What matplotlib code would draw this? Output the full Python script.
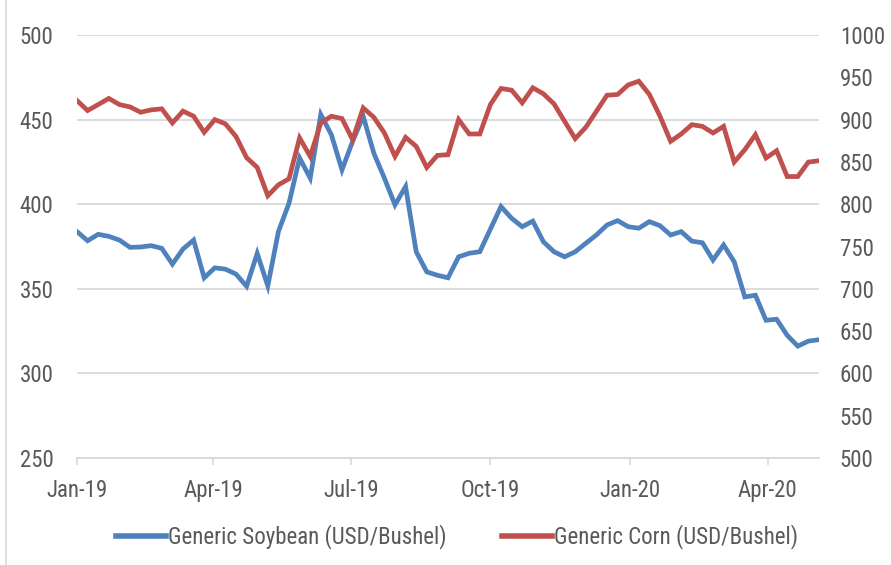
import numpy as np
import pandas as pd
import matplotlib

matplotlib.use('Agg')
import matplotlib.pyplot as plt
import matplotlib.dates as mdates
from matplotlib.lines import Line2D
from matplotlib import font_manager

# 找一个窄体字体 (Excel 风格), 没有就退回 Liberation Sans
installed = {f.name for f in font_manager.fontManager.ttflist}
narrow = [n for n in ['Liberation Sans Narrow', 'Arial Narrow', 'Roboto Condensed',
                      'Noto Sans Condensed', 'Open Sans Condensed', 'DejaVu Sans Condensed']
          if n in installed]
condensed_dejavu = any(f.name == 'DejaVu Sans' and str(f.stretch) in ('condensed', '300')
                       for f in font_manager.fontManager.ttflist)
if narrow:
    plt.rcParams['font.family'] = [narrow[0], 'DejaVu Sans']
    fs = 16.5
elif condensed_dejavu:
    plt.rcParams['font.family'] = ['DejaVu Sans']
    plt.rcParams['font.stretch'] = 'condensed'
    fs = 15
else:
    plt.rcParams['font.family'] = ['Liberation Sans', 'DejaVu Sans']
    fs = 15

# ===================== data (weekly) =====================
dates = pd.date_range('2019-01-01', periods=71, freq='7D')

soybean = [383.8, 378.4, 382.2, 381.0, 378.8, 374.5, 374.7, 375.5, 373.9, 364.6,
           373.5, 378.8, 356.5, 362.4, 361.6, 358.7, 351.5, 370.9, 351.7, 383.8,
           400.6, 427.3, 415.4, 453.0, 441.0, 420.3, 437.1, 452.0, 430.2, 415.4,
           399.6, 410.4, 371.9, 360.0, 358.0, 356.5, 368.9, 371.0, 371.9, 385.3,
           398.6, 391.7, 386.7, 390.0, 377.8, 371.9, 368.9, 371.9, 376.9, 381.8,
           387.7, 390.3, 386.7, 385.8, 389.7, 387.3, 381.8, 383.8, 378.2, 377.2,
           367.0, 375.9, 366.0, 345.2, 346.2, 331.4, 332.0, 322.5, 316.1, 319.1,
           319.9]

corn = [922.5, 910.7, 917.8, 925.0, 917.8, 915.0, 908.7, 911.5, 912.7, 896.0,
        910.0, 904.0, 885.0, 900.0, 895.0, 880.0, 855.0, 843.5, 810.0, 822.9,
        830.0, 878.3, 856.5, 896.0, 904.0, 901.2, 876.3, 913.8, 902.8, 884.2,
        856.5, 879.0, 868.4, 843.4, 857.7, 858.5, 900.0, 883.0, 883.0, 917.8,
        936.8, 934.8, 919.8, 937.6, 930.5, 918.6, 898.0, 877.5, 890.9, 909.8,
        928.8, 929.7, 941.0, 945.4, 929.7, 904.0, 874.3, 883.0, 894.0, 892.0,
        884.2, 892.0, 849.8, 864.4, 882.2, 854.6, 863.2, 832.7, 832.7, 849.8,
        851.4]

left_ticks = [250, 300, 350, 400, 450, 500]
right_ticks = [500, 550, 600, 650, 700, 750, 800, 850, 900, 950, 1000]
x_ticks = pd.date_range('2019-01-01', '2020-04-01', freq='QS')

label_soy = 'Generic Soybean (USD/Bushel)'
label_corn = 'Generic Corn (USD/Bushel)'

# ===================== plot =====================
blue = '#4F81BD'
red = '#C0504D'
txt = '#595959'
grid = '#D9D9D9'

fig = plt.figure(figsize=(8.91, 5.65), dpi=100)
ax = fig.add_axes([77 / 891, 1 - 458 / 565, (819 - 77) / 891, (458 - 35) / 565])
ax2 = ax.twinx()

ax.plot(dates, soybean, color=blue, lw=3.4, solid_joinstyle='miter', zorder=3)
ax2.plot(dates, corn, color=red, lw=3.4, solid_joinstyle='miter', zorder=3)

ax.set_ylim(250, 500)
ax2.set_ylim(500, 1000)
ax.set_yticks(left_ticks)
ax2.set_yticks(right_ticks)
ax.set_xlim(dates[0], dates[-1])
ax.set_xticks(x_ticks)
ax.xaxis.set_major_formatter(mdates.DateFormatter('%b-%y'))

ax.grid(axis='y', color=grid, lw=1.3)
ax.set_axisbelow(True)

for a in (ax, ax2):
    for s in a.spines.values():
        s.set_visible(False)
ax.spines['bottom'].set_visible(True)
ax.spines['bottom'].set_color(grid)
ax.spines['bottom'].set_linewidth(1.3)

ax.tick_params(axis='y', length=0, pad=17, labelsize=fs, labelcolor=txt)
ax2.tick_params(axis='y', length=0, pad=15, labelsize=fs, labelcolor=txt)
ax.tick_params(axis='x', length=5, width=1.2, color=grid, pad=10, labelsize=fs, labelcolor=txt)

handles = [Line2D([], [], color=blue, lw=4),
           Line2D([], [], color=red, lw=4)]
fig.legend(handles, [label_soy, label_corn], loc='center', bbox_to_anchor=(457 / 891, 1 - 537 / 565),
           ncol=2, frameon=False, fontsize=fs, labelcolor=txt, handlelength=2.2,
           handletextpad=0.1, columnspacing=2.4)

# chart frame edge on the left
fig.add_artist(Line2D([5.5 / 891, 5.5 / 891], [0, 1], color=grid, lw=1.2, transform=fig.transFigure))

plt.savefig('out.png', dpi=100)
